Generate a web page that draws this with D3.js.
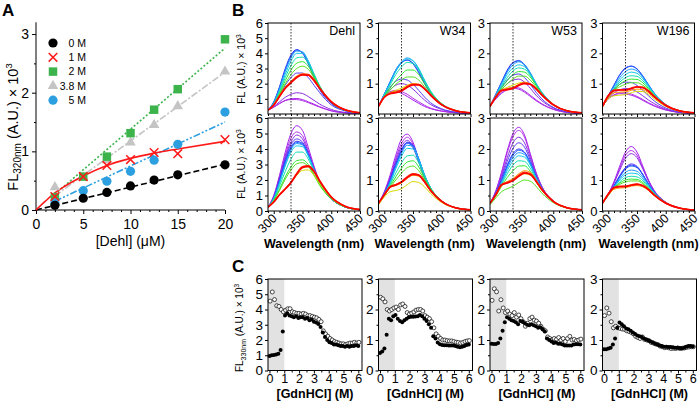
<!DOCTYPE html>
<html><head><meta charset="utf-8">
<script src="https://cdn.jsdelivr.net/npm/d3@7"></script>
<style>body{margin:0;background:#fff}svg{display:block}text{font-family:'Liberation Sans',Arial,Helvetica,sans-serif}</style>
</head><body><svg id="c" width="700" height="403"></svg>
<script>
// ---------------- DATA ----------------
// Panel A
const dehlConc = [2,5,7.5,10,12.5,15,20];
const a0M  = [0.08,0.2,0.3,0.41,0.51,0.6,0.77];
const a1M  = [0.23,0.57,0.76,0.86,0.98,0.96,1.2];
const a2M  = [0.22,0.57,0.91,1.31,1.71,2.06,2.91];
const a38M = [0.39,0.55,0.85,1.15,1.45,1.77,2.36];
const a5M  = [0.12,0.33,0.49,0.66,0.85,1.12,1.67];
const fit0x = [0,20], fit0y = [0,0.78];
const fit1x = [0,1,2,3,5,7.5,10,12.5,15,20], fit1y = [0,0.15,0.29,0.4,0.58,0.76,0.88,0.97,1.04,1.17];
const fit2x = [2,20], fit2y = [0.27,2.76];
const fit38x = [2,20], fit38y = [0.24,2.35];
const fit5x = [2,20], fit5y = [0.15,1.5];
const legendLabels = ['0 M','1 M','2 M','3.8 M','5 M'];
const aXTicks = [0,5,10,15,20], aYTicks = [0,1,2,3];

// Panel B: spectra sampled at these wavelengths (nm)
const wl = [290,300,310,320,330,340,350,360,370,380,400,425,450];
const specColors = ['#a51ef0','#b22ee6','#8a2be2','#5a3cf5','#2b2bff','#1f5fff','#1e9bff','#12c8e8','#10e0b0','#2ee82e','#55e020','#d8d800','#ff9a00','#ff3010','#ff0000'];
const specDehlTop = [
 [0.25,0.45,0.7,0.9,1.0,1.02,0.95,0.8,0.65,0.48,0.22,0.08,0.03],
 [0.25,0.45,0.68,0.88,0.95,0.95,0.88,0.75,0.6,0.45,0.2,0.07,0.03],
 [0.25,0.5,0.8,1.1,1.3,1.4,1.35,1.15,0.9,0.65,0.3,0.1,0.04],
 [0.25,0.6,1.2,1.9,2.4,2.7,2.7,2.4,1.9,1.4,0.6,0.2,0.06],
 [0.25,0.8,1.8,3.0,3.9,4.25,4.0,3.3,2.4,1.6,0.7,0.22,0.07],
 [0.25,0.8,1.75,2.9,3.8,4.2,4.05,3.4,2.5,1.7,0.72,0.22,0.07],
 [0.25,0.75,1.65,2.8,3.7,4.15,4.1,3.5,2.6,1.8,0.75,0.24,0.08],
 [0.25,0.7,1.55,2.6,3.5,4.0,4.0,3.5,2.65,1.85,0.78,0.25,0.08],
 [0.25,0.68,1.45,2.4,3.2,3.7,3.75,3.35,2.6,1.8,0.78,0.25,0.08],
 [0.25,0.65,1.35,2.2,2.9,3.35,3.45,3.15,2.5,1.8,0.78,0.25,0.08],
 [0.25,0.62,1.3,2.0,2.6,3.0,3.15,2.95,2.4,1.75,0.78,0.25,0.08],
 [0.25,0.6,1.2,1.75,2.15,2.45,2.6,2.55,2.2,1.68,0.8,0.26,0.08],
 [0.25,0.6,1.2,1.75,2.15,2.5,2.65,2.6,2.25,1.7,0.82,0.26,0.08],
 [0.25,0.6,1.18,1.72,2.1,2.45,2.62,2.6,2.25,1.7,0.82,0.26,0.08],
 [0.25,0.6,1.15,1.7,2.05,2.4,2.58,2.55,2.2,1.68,0.8,0.26,0.08]];
const specW34Top = [
 [0.25,0.55,0.72,0.75,0.68,0.58,0.46,0.35,0.25,0.18,0.09,0.04,0.02],
 [0.25,0.55,0.73,0.78,0.74,0.65,0.52,0.4,0.29,0.2,0.1,0.04,0.02],
 [0.25,0.58,0.8,0.95,1.0,0.95,0.82,0.64,0.46,0.32,0.15,0.05,0.02],
 [0.25,0.6,0.88,1.08,1.15,1.12,0.98,0.78,0.56,0.38,0.17,0.06,0.02],
 [0.25,0.65,1.05,1.45,1.7,1.78,1.65,1.36,1.0,0.68,0.3,0.1,0.04],
 [0.25,0.65,1.05,1.42,1.68,1.78,1.68,1.4,1.05,0.72,0.32,0.1,0.04],
 [0.25,0.65,1.05,1.45,1.72,1.85,1.75,1.48,1.1,0.75,0.33,0.11,0.04],
 [0.25,0.63,1.0,1.4,1.68,1.82,1.76,1.5,1.12,0.78,0.34,0.11,0.04],
 [0.25,0.6,0.95,1.3,1.55,1.7,1.66,1.45,1.1,0.76,0.34,0.11,0.04],
 [0.25,0.58,0.85,1.1,1.3,1.45,1.45,1.3,1.0,0.72,0.33,0.11,0.04],
 [0.25,0.56,0.78,0.98,1.12,1.22,1.22,1.12,0.9,0.66,0.32,0.11,0.04],
 [0.25,0.55,0.7,0.78,0.85,0.95,1.0,0.96,0.82,0.62,0.3,0.1,0.04],
 [0.25,0.55,0.69,0.74,0.8,0.93,1.0,0.98,0.84,0.64,0.31,0.11,0.04],
 [0.25,0.55,0.68,0.72,0.78,0.9,0.98,0.97,0.84,0.64,0.31,0.11,0.04],
 [0.25,0.55,0.67,0.7,0.76,0.88,0.96,0.96,0.83,0.63,0.3,0.1,0.04]];
const specW53Top = [
 [0.25,0.5,0.68,0.8,0.85,0.82,0.72,0.58,0.44,0.32,0.15,0.05,0.02],
 [0.25,0.5,0.7,0.83,0.88,0.86,0.76,0.62,0.47,0.34,0.16,0.05,0.02],
 [0.25,0.55,0.8,1.0,1.12,1.15,1.05,0.85,0.62,0.44,0.2,0.06,0.02],
 [0.25,0.58,0.88,1.12,1.28,1.32,1.2,0.98,0.72,0.5,0.22,0.07,0.03],
 [0.25,0.65,1.05,1.45,1.7,1.76,1.62,1.32,0.98,0.68,0.3,0.1,0.04],
 [0.25,0.64,1.03,1.42,1.68,1.75,1.63,1.35,1.0,0.7,0.31,0.1,0.04],
 [0.25,0.62,1.0,1.38,1.62,1.72,1.62,1.36,1.02,0.72,0.32,0.1,0.04],
 [0.25,0.6,0.95,1.3,1.52,1.62,1.56,1.32,1.0,0.72,0.32,0.1,0.04],
 [0.25,0.58,0.9,1.2,1.42,1.52,1.48,1.28,0.98,0.7,0.32,0.1,0.04],
 [0.25,0.56,0.85,1.1,1.3,1.4,1.38,1.22,0.95,0.68,0.32,0.1,0.04],
 [0.25,0.55,0.8,1.0,1.15,1.25,1.25,1.12,0.9,0.66,0.31,0.1,0.04],
 [0.25,0.55,0.78,0.88,0.95,1.02,1.05,0.98,0.82,0.62,0.3,0.1,0.04],
 [0.25,0.55,0.78,0.84,0.88,0.97,1.03,0.98,0.83,0.63,0.3,0.1,0.04],
 [0.25,0.56,0.78,0.82,0.86,0.96,1.02,0.99,0.84,0.64,0.31,0.1,0.04],
 [0.25,0.55,0.77,0.8,0.84,0.94,1.0,0.98,0.83,0.63,0.3,0.1,0.04]];
const specW196Top = [
 [0.25,0.5,0.62,0.67,0.66,0.62,0.55,0.45,0.35,0.26,0.13,0.05,0.02],
 [0.25,0.5,0.63,0.7,0.7,0.66,0.58,0.48,0.37,0.28,0.14,0.05,0.02],
 [0.25,0.52,0.7,0.8,0.84,0.82,0.73,0.6,0.46,0.34,0.16,0.05,0.02],
 [0.25,0.55,0.8,0.98,1.05,1.04,0.94,0.78,0.6,0.43,0.2,0.07,0.03],
 [0.25,0.6,0.95,1.3,1.52,1.58,1.48,1.24,0.95,0.67,0.3,0.1,0.04],
 [0.25,0.6,0.95,1.28,1.5,1.57,1.49,1.26,0.97,0.69,0.31,0.1,0.04],
 [0.25,0.58,0.9,1.2,1.4,1.48,1.42,1.22,0.95,0.68,0.31,0.1,0.04],
 [0.25,0.56,0.85,1.12,1.3,1.38,1.34,1.17,0.92,0.67,0.31,0.1,0.04],
 [0.25,0.55,0.82,1.05,1.2,1.26,1.24,1.1,0.88,0.65,0.3,0.1,0.04],
 [0.25,0.55,0.8,0.98,1.1,1.15,1.14,1.03,0.84,0.62,0.3,0.1,0.04],
 [0.25,0.56,0.78,0.9,0.98,1.03,1.03,0.95,0.8,0.6,0.29,0.1,0.04],
 [0.25,0.5,0.6,0.62,0.64,0.7,0.75,0.74,0.65,0.5,0.25,0.09,0.03],
 [0.25,0.55,0.7,0.72,0.73,0.78,0.82,0.8,0.7,0.54,0.27,0.09,0.03],
 [0.25,0.6,0.78,0.8,0.8,0.85,0.9,0.88,0.76,0.58,0.29,0.1,0.04],
 [0.25,0.6,0.77,0.79,0.79,0.84,0.89,0.87,0.75,0.57,0.28,0.1,0.04]];
const specDehlBot = [
 [0.25,1.0,2.3,3.8,5.0,5.5,5.2,4.1,2.9,1.9,0.8,0.25,0.08],
 [0.25,0.95,2.2,3.6,4.7,5.1,4.85,3.9,2.8,1.85,0.8,0.25,0.08],
 [0.25,0.9,2.1,3.45,4.45,4.9,4.65,3.8,2.75,1.8,0.8,0.25,0.08],
 [0.25,0.88,2.05,3.35,4.3,4.65,4.45,3.7,2.7,1.8,0.8,0.25,0.08],
 [0.25,0.85,1.95,3.2,4.15,4.5,4.35,3.65,2.7,1.8,0.8,0.25,0.08],
 [0.25,0.84,1.9,3.1,4.05,4.42,4.3,3.62,2.68,1.8,0.8,0.25,0.08],
 [0.25,0.82,1.85,3.0,3.95,4.35,4.25,3.6,2.68,1.8,0.8,0.25,0.08],
 [0.25,0.8,1.78,2.9,3.8,4.2,4.15,3.55,2.65,1.8,0.8,0.25,0.08],
 [0.25,0.75,1.6,2.55,3.35,3.8,3.8,3.35,2.55,1.75,0.8,0.25,0.08],
 [0.25,0.7,1.4,2.2,2.85,3.25,3.3,3.0,2.35,1.68,0.8,0.25,0.08],
 [0.25,0.68,1.32,2.05,2.65,3.05,3.12,2.88,2.3,1.65,0.8,0.25,0.08],
 [0.25,0.6,1.05,1.45,1.85,2.3,2.62,2.65,2.3,1.75,0.85,0.28,0.09],
 [0.25,0.58,1.05,1.45,1.88,2.4,2.78,2.85,2.5,1.9,0.88,0.28,0.09],
 [0.25,0.58,1.05,1.42,1.85,2.42,2.85,2.92,2.58,1.95,0.9,0.29,0.09],
 [0.25,0.58,1.05,1.42,1.82,2.38,2.8,2.88,2.55,1.93,0.9,0.29,0.09]];
const specW34Bot = [
 [0.25,0.62,1.15,1.8,2.32,2.48,2.22,1.65,1.1,0.7,0.3,0.1,0.04],
 [0.25,0.6,1.08,1.7,2.18,2.38,2.15,1.62,1.08,0.7,0.3,0.1,0.04],
 [0.25,0.58,1.05,1.62,2.08,2.28,2.08,1.6,1.08,0.7,0.3,0.1,0.04],
 [0.25,0.57,1.0,1.55,2.0,2.2,2.04,1.58,1.07,0.7,0.3,0.1,0.04],
 [0.25,0.56,0.98,1.5,1.95,2.22,2.12,1.68,1.15,0.75,0.32,0.1,0.04],
 [0.25,0.55,0.95,1.46,1.9,2.18,2.1,1.68,1.16,0.76,0.32,0.1,0.04],
 [0.25,0.55,0.93,1.42,1.85,2.12,2.08,1.68,1.17,0.77,0.32,0.1,0.04],
 [0.25,0.54,0.9,1.36,1.76,2.02,2.0,1.65,1.16,0.77,0.32,0.1,0.04],
 [0.25,0.52,0.85,1.22,1.55,1.78,1.8,1.55,1.12,0.76,0.32,0.1,0.04],
 [0.25,0.5,0.8,1.1,1.38,1.58,1.62,1.42,1.06,0.74,0.32,0.1,0.04],
 [0.25,0.5,0.76,1.0,1.22,1.4,1.45,1.3,1.0,0.7,0.31,0.1,0.04],
 [0.2,0.45,0.62,0.66,0.72,0.85,0.95,0.92,0.78,0.58,0.27,0.09,0.03],
 [0.25,0.5,0.75,0.82,0.9,1.05,1.15,1.12,0.92,0.66,0.3,0.1,0.04],
 [0.25,0.52,0.78,0.85,0.95,1.1,1.2,1.16,0.95,0.68,0.31,0.1,0.04],
 [0.25,0.52,0.77,0.84,0.93,1.08,1.18,1.15,0.94,0.68,0.31,0.1,0.04]];
const specW53Bot = [
 [0.25,0.65,1.25,1.95,2.5,2.7,2.45,1.85,1.25,0.8,0.32,0.1,0.04],
 [0.25,0.63,1.2,1.88,2.4,2.6,2.38,1.82,1.23,0.8,0.32,0.1,0.04],
 [0.25,0.6,1.12,1.72,2.2,2.38,2.2,1.72,1.18,0.78,0.32,0.1,0.04],
 [0.25,0.58,1.05,1.6,2.02,2.2,2.06,1.64,1.14,0.76,0.32,0.1,0.04],
 [0.25,0.56,0.98,1.48,1.85,2.0,1.9,1.55,1.1,0.74,0.32,0.1,0.04],
 [0.25,0.55,0.96,1.44,1.8,1.96,1.88,1.55,1.1,0.74,0.32,0.1,0.04],
 [0.25,0.54,0.93,1.38,1.72,1.88,1.82,1.52,1.09,0.74,0.32,0.1,0.04],
 [0.25,0.53,0.9,1.3,1.62,1.78,1.74,1.48,1.07,0.73,0.32,0.1,0.04],
 [0.25,0.5,0.85,1.2,1.48,1.62,1.6,1.38,1.02,0.71,0.31,0.1,0.04],
 [0.25,0.48,0.8,1.08,1.3,1.45,1.46,1.28,0.97,0.68,0.3,0.1,0.04],
 [0.2,0.42,0.62,0.72,0.8,0.92,1.0,0.96,0.8,0.58,0.27,0.09,0.03],
 [0.25,0.5,0.8,0.92,1.0,1.12,1.2,1.15,0.95,0.68,0.3,0.1,0.04],
 [0.25,0.52,0.85,0.95,1.05,1.2,1.3,1.25,1.0,0.7,0.31,0.1,0.04],
 [0.25,0.52,0.85,0.92,1.0,1.15,1.25,1.2,0.98,0.7,0.31,0.1,0.04],
 [0.25,0.52,0.84,0.9,0.98,1.12,1.22,1.18,0.96,0.69,0.31,0.1,0.04]];
const specW196Bot = [
 [0.25,0.55,0.95,1.45,1.9,2.08,1.9,1.45,1.0,0.66,0.28,0.09,0.03],
 [0.25,0.55,0.92,1.38,1.8,1.95,1.8,1.4,0.98,0.65,0.28,0.09,0.03],
 [0.25,0.54,0.9,1.32,1.7,1.85,1.72,1.36,0.96,0.64,0.28,0.09,0.03],
 [0.25,0.52,0.82,1.15,1.4,1.52,1.44,1.18,0.86,0.6,0.27,0.09,0.03],
 [0.25,0.52,0.82,1.12,1.38,1.48,1.42,1.18,0.87,0.6,0.27,0.09,0.03],
 [0.25,0.52,0.8,1.1,1.35,1.45,1.4,1.17,0.87,0.6,0.27,0.09,0.03],
 [0.25,0.5,0.78,1.04,1.25,1.32,1.28,1.1,0.84,0.6,0.27,0.09,0.03],
 [0.25,0.5,0.76,1.0,1.17,1.22,1.2,1.04,0.8,0.58,0.27,0.09,0.03],
 [0.25,0.5,0.74,0.94,1.08,1.12,1.1,0.98,0.77,0.56,0.26,0.09,0.03],
 [0.25,0.52,0.75,0.9,1.0,1.03,1.02,0.92,0.74,0.55,0.26,0.09,0.03],
 [0.25,0.52,0.74,0.86,0.94,0.97,0.97,0.88,0.72,0.54,0.26,0.09,0.03],
 [0.25,0.52,0.72,0.78,0.8,0.84,0.86,0.81,0.68,0.51,0.25,0.09,0.03],
 [0.25,0.5,0.7,0.74,0.75,0.8,0.82,0.78,0.66,0.5,0.25,0.09,0.03],
 [0.25,0.55,0.76,0.8,0.8,0.84,0.87,0.82,0.7,0.52,0.26,0.09,0.03],
 [0.25,0.54,0.75,0.78,0.79,0.83,0.86,0.81,0.69,0.51,0.25,0.09,0.03]];
const bNames = ['Dehl','W34','W53','W196'];
const bMax = [6,3,3,3];
const bXTicks = [300,350,400,450];

// Panel C: FL at 330 nm vs [GdnHCl]
const gdn = [0,0.15,0.3,0.45,0.6,0.75,0.9,1.05,1.2,1.35,1.5,1.65,1.8,1.95,2.1,2.25,2.4,2.55,2.7,2.85,3,3.15,3.3,3.45,3.6,3.75,3.9,4.05,4.2,4.35,4.5,4.65,4.8,4.95,5.1,5.25,5.4,5.55,5.7,5.85,6];
const cDehlFilled = [0.95,1.0,1.02,1.05,1.1,1.35,2.55,3.6,3.75,3.6,3.55,3.5,3.55,3.45,3.5,3.5,3.4,3.45,3.3,3.35,3.2,3.15,3.05,2.85,2.5,2.2,2.0,1.85,1.8,1.7,1.7,1.65,1.6,1.6,1.55,1.6,1.55,1.6,1.6,1.65,1.6];
const cDehlOpen = [4.55,5.15,4.65,4.25,4.2,4.0,3.85,3.95,4.05,4.05,3.85,3.8,3.75,3.75,3.7,3.75,3.7,3.6,3.6,3.55,3.5,3.45,3.35,3.2,2.6,2.4,2.25,2.1,2.0,1.9,1.85,1.8,1.75,1.75,1.7,1.75,1.8,1.8,1.85,1.8,1.85];
const cW34Filled = [0.57,0.62,0.72,1.17,1.7,1.65,1.78,1.82,1.7,1.62,1.58,1.65,1.7,1.75,1.76,1.76,1.77,1.78,1.82,1.78,1.7,1.62,1.52,1.4,1.12,1.05,0.92,0.86,0.84,0.83,0.83,0.82,0.82,0.82,0.8,0.78,0.76,0.78,0.8,0.84,0.85];
const cW34Open = [2.4,2.35,2.25,2.0,1.95,2.0,2.05,2.08,2.0,2.15,2.18,2.1,1.9,1.85,1.88,1.92,1.98,2.0,2.0,1.95,1.8,1.75,1.7,1.6,1.4,1.2,1.12,1.05,1.0,1.0,0.98,0.97,0.97,0.95,0.93,0.92,0.9,0.92,0.95,0.97,0.98];
const cW53Filled = [0.88,0.87,0.87,0.9,1.05,1.3,1.58,1.75,1.7,1.65,1.62,1.58,1.52,1.62,1.6,1.55,1.5,1.48,1.52,1.48,1.45,1.4,1.42,1.35,1.28,1.05,1.0,0.95,0.9,0.92,0.88,0.88,0.85,0.82,0.82,0.82,0.82,0.85,0.86,0.86,0.85];
const cW53Open = [2.3,2.68,2.58,1.95,2.32,2.05,1.9,1.95,1.85,1.8,1.9,1.75,1.82,1.7,1.6,1.45,1.55,1.7,1.75,1.65,1.62,1.55,1.45,1.35,1.3,1.1,1.05,1.0,1.05,1.02,1.08,1.0,1.05,0.95,1.05,1.12,1.0,1.02,0.98,1.0,1.03];
const cW196Filled = [0.7,0.7,0.72,0.75,0.85,1.05,1.4,1.57,1.52,1.45,1.38,1.35,1.3,1.25,1.2,1.15,1.12,1.1,1.05,1.02,0.98,0.95,0.92,0.88,0.85,0.82,0.8,0.78,0.78,0.77,0.77,0.76,0.75,0.75,0.74,0.73,0.75,0.78,0.8,0.8,0.79];
const cW196Open = [1.8,2.05,1.88,1.6,1.4,1.45,1.4,1.38,1.36,1.35,1.3,1.28,1.25,1.2,1.12,1.08,1.05,1.1,1.02,1.0,0.98,0.92,0.9,0.87,0.85,0.8,0.78,0.75,0.76,0.74,0.72,0.73,0.72,0.74,0.72,0.73,0.74,0.76,0.77,0.78,0.78];
const cXTicks = [0,1,2,3,4,5,6];

// ---------------- DRAW ----------------
const svg = d3.select('#c');
const FONT = "'Liberation Sans', Arial, Helvetica, sans-serif";

function styleAxis(sel, fs){
  sel.select('.domain').remove();
  sel.selectAll('line').attr('stroke','#000').attr('stroke-width',1);
  sel.selectAll('text').style('font-family',FONT).style('font-size',fs+'px').attr('fill','#000');
}
function frame(g,x0,y0,w,h){
  g.append('rect').attr('x',x0).attr('y',y0).attr('width',w).attr('height',h)
   .attr('fill','none').attr('stroke','#000').attr('stroke-width',1);
}
function yLabel(g, x, y, fs, sub, subFs){
  const t = g.append('text').attr('transform',`translate(${x},${y}) rotate(-90)`)
    .attr('text-anchor','middle').style('font-size',fs+'px');
  t.append('tspan').text('FL');
  let rest = ' (A.U.) \u00d7 10';
  if(sub){ t.append('tspan').attr('dy',fs*0.25).style('font-size',subFs+'px').text(sub);
           t.append('tspan').attr('dy',-fs*0.25).text(rest); }
  else t.append('tspan').text(rest);
  t.append('tspan').attr('dy',-fs*0.4).style('font-size',(fs*0.65)+'px').text('3');
}

// ===== Panel A =====
const gA = svg.append('g');
const ax = d3.scaleLinear().domain([0,20]).range([36,225]);
const ay = d3.scaleLinear().domain([0,3.2]).range([210,22.3]);
gA.append('line').attr('x1',ax(0)).attr('x2',ax(0)).attr('y1',ay(3.2)).attr('y2',ay(0)).attr('stroke','#000');
gA.append('line').attr('x1',ax(0)).attr('x2',ax(20)).attr('y1',ay(0)).attr('y2',ay(0)).attr('stroke','#000');
gA.append('g').attr('transform',`translate(${ax(0)},0)`)
  .call(d3.axisLeft(ay).tickValues(aYTicks).tickSize(4).tickPadding(3).tickFormat(d3.format('d'))).call(styleAxis,14);
gA.append('g').attr('transform',`translate(${ax(0)},0)`)
  .call(d3.axisLeft(ay).tickValues([0.5,1.5,2.5]).tickSize(2).tickFormat('')).call(styleAxis,14);
gA.append('g').attr('transform',`translate(0,${ay(0)})`)
  .call(d3.axisBottom(ax).tickValues(aXTicks).tickSize(4).tickPadding(5).tickFormat(d3.format('d'))).call(styleAxis,14);
gA.append('g').attr('transform',`translate(0,${ay(0)})`)
  .call(d3.axisBottom(ax).tickValues(d3.range(1,20).filter(v=>v%5)).tickSize(2).tickFormat('')).call(styleAxis,14);
gA.append('text').attr('x',(ax(0)+ax(20))/2).attr('y',246).attr('text-anchor','middle').style('font-size','14px').text('[Dehl] (\u03bcM)');
yLabel(gA, 17.5, 127, 14.5, '320nm', 10);

const colA = {k:'#000000', r:'#ff1a1a', g:'#3cb44b', gr:'#c4c4c4', b:'#2b9fe0'};
const lineA = d3.line().x(d=>ax(d[0])).y(d=>ay(d[1]));
function fitPath(xs, ys, color, dash, curve){
  const ln = curve ? d3.line().curve(d3.curveMonotoneX).x(d=>ax(d[0])).y(d=>ay(d[1])) : lineA;
  gA.append('path').attr('d', ln(xs.map((x,i)=>[x,ys[i]]))).attr('fill','none')
    .attr('stroke',color).attr('stroke-width',1.6).attr('stroke-dasharray',dash);
}
fitPath(fit0x,fit0y,colA.k,'6,3');
fitPath(fit2x,fit2y,colA.g,'2,2');
fitPath(fit38x,fit38y,colA.gr,'7,2,2,2');
fitPath(fit5x,fit5y,colA.b,'7,2,2,2,2,2');
fitPath(fit1x,fit1y,colA.r,null,true);

function drawMarker(g, type, cx, cy){
  if(type==='circK'||type==='circB'){
    g.append('circle').attr('cx',cx).attr('cy',cy).attr('r',4.6).attr('fill', type==='circK'?colA.k:colA.b);
  } else if(type==='sq'){
    g.append('path').attr('transform',`translate(${cx},${cy})`).attr('d',d3.symbol(d3.symbolSquare,72)()).attr('fill',colA.g);
  } else if(type==='tri'){
    g.append('path').attr('transform',`translate(${cx},${cy})`).attr('d',d3.symbol(d3.symbolTriangle,48)()).attr('fill',colA.gr);
  } else if(type==='x'){
    const s=4.3;
    g.append('path').attr('d',`M${cx-s},${cy-s}L${cx+s},${cy+s}M${cx-s},${cy+s}L${cx+s},${cy-s}`)
      .attr('stroke',colA.r).attr('stroke-width',1.5).attr('fill','none');
  }
}
const seriesA = [
  {vals:a38M, type:'tri'}, {vals:a2M, type:'sq'}, {vals:a5M, type:'circB'},
  {vals:a0M, type:'circK'}, {vals:a1M, type:'x'}];
seriesA.forEach(s=> s.vals.forEach((v,i)=> drawMarker(gA, s.type, ax(dehlConc[i]), ay(v))));
// legend
const legTypes = ['circK','x','sq','tri','circB'];
legendLabels.forEach((lab,i)=>{
  const yy = 43 + i*14.3;
  drawMarker(gA, legTypes[i], 53, yy);
  gA.append('text').attr('x',86).attr('y',yy+3.6).attr('text-anchor','end').style('font-size','10.5px').text(lab);
});

// ===== Panel B =====
const bLefts = [268,378.5,490,602.5], bW = 92;
const rowsB = [{top:23,bot:114,spec:[specDehlTop,specW34Top,specW53Top,specW196Top]},
               {top:118,bot:211,spec:[specDehlBot,specW34Bot,specW53Bot,specW196Bot]}];
const defs = svg.append('defs');
rowsB.forEach((row,r)=>{
  bLefts.forEach((L,i)=>{
    const g = svg.append('g');
    const x = d3.scaleLinear().domain([290,450]).range([L,L+bW]);
    const y = d3.scaleLinear().domain([0,bMax[i]]).range([row.bot,row.top]);
    const cid = `clipB${r}${i}`;
    defs.append('clipPath').attr('id',cid).append('rect').attr('x',L).attr('y',row.top).attr('width',bW).attr('height',row.bot-row.top);
    const line = d3.line().curve(d3.curveMonotoneX).x(d=>x(d[0])).y(d=>y(d[1]));
    const cg = g.append('g').attr('clip-path',`url(#${cid})`);
    row.spec[i].forEach((vals,k)=>{
      cg.append('path').attr('d',line(wl.map((w,j)=>[w,vals[j]]))).attr('fill','none')
        .attr('stroke',specColors[k]).attr('stroke-width', k>=13?1.6:1.0);
    });
    g.append('line').attr('x1',x(330)).attr('x2',x(330)).attr('y1',row.top).attr('y2',row.bot)
      .attr('stroke','#000').attr('stroke-width',0.8).attr('stroke-dasharray','1.5,1.5');
    frame(g,L,row.top,bW,row.bot-row.top);
    const yt = d3.range(r===0?1:0, bMax[i]+1);
    g.append('g').attr('transform',`translate(${L},0)`)
      .call(d3.axisLeft(y).tickValues(yt).tickSize(3).tickPadding(2).tickFormat(d3.format('d'))).call(styleAxis,13);
    if(bMax[i]===3) g.append('g').attr('transform',`translate(${L},0)`)
      .call(d3.axisLeft(y).tickValues([0.5,1.5,2.5]).tickSize(2).tickFormat('')).call(styleAxis,13);
    g.append('g').attr('transform',`translate(0,${row.bot})`)
      .call(d3.axisBottom(x).tickValues(bXTicks).tickSize(3).tickFormat('')).call(styleAxis,12);
    g.append('g').attr('transform',`translate(0,${row.bot})`)
      .call(d3.axisBottom(x).tickValues(d3.range(290,451,10).filter(v=>v%50)).tickSize(2).tickFormat('')).call(styleAxis,12);
    if(r===0){
      g.append('text').attr('x',L+bW-5).attr('y',35).attr('text-anchor','end').style('font-size','12.5px').text(bNames[i]);
    } else {
      bXTicks.forEach(v=>{
        g.append('text').attr('transform',`translate(${x(v)+4},219) rotate(-45)`).attr('text-anchor','end')
          .style('font-size','12.5px').text(v);
      });
      g.append('text').attr('x',L+bW/2).attr('y',248).attr('text-anchor','middle')
        .style('font-size','12.5px').style('font-weight','bold').text('Wavelength (nm)');
    }
  });
});
yLabel(svg, 245, 69, 10.5, null);
yLabel(svg, 245, 164, 10.5, null);

// ===== Panel C =====
const cTop = 279, cBot = 370.5, cW = 94;
const cSets = [[cDehlFilled,cDehlOpen],[cW34Filled,cW34Open],[cW53Filled,cW53Open],[cW196Filled,cW196Open]];
bLefts.forEach((L,i)=>{
  const g = svg.append('g');
  const x = d3.scaleLinear().domain([-0.1,6.25]).range([L,L+cW]);
  const y = d3.scaleLinear().domain([0,bMax[i]]).range([cBot,cTop]);
  g.append('rect').attr('x',x(-0.1)).attr('y',cTop).attr('width',x(1)-x(-0.1)).attr('height',cBot-cTop).attr('fill','#e2e2e2');
  const [filled, open] = cSets[i];
  open.forEach((v,j)=> g.append('circle').attr('cx',x(gdn[j])+0.6).attr('cy',y(v)).attr('r',2.0)
      .attr('fill','#fff').attr('stroke','#000').attr('stroke-width',0.7));
  filled.forEach((v,j)=> g.append('circle').attr('cx',x(gdn[j])).attr('cy',y(v)).attr('r',2.0).attr('fill','#000'));
  frame(g,L,cTop,cW,cBot-cTop);
  g.append('g').attr('transform',`translate(${L},0)`)
    .call(d3.axisLeft(y).tickValues(d3.range(0,bMax[i]+1)).tickSize(3).tickPadding(2).tickFormat(d3.format('d'))).call(styleAxis,13.5);
  if(bMax[i]===3) g.append('g').attr('transform',`translate(${L},0)`)
    .call(d3.axisLeft(y).tickValues([0.5,1.5,2.5]).tickSize(2).tickFormat('')).call(styleAxis,13);
  g.append('g').attr('transform',`translate(0,${cBot})`)
    .call(d3.axisBottom(x).tickValues(cXTicks).tickSize(3).tickPadding(0.5).tickFormat(d3.format('d'))).call(styleAxis,12.5);
  g.append('g').attr('transform',`translate(0,${cBot})`)
    .call(d3.axisBottom(x).tickValues([0.5,1.5,2.5,3.5,4.5,5.5]).tickSize(2).tickFormat('')).call(styleAxis,12);
  g.append('text').attr('x',L+cW/2).attr('y',397.5).attr('text-anchor','middle')
    .style('font-size','12.5px').style('font-weight','bold').text('[GdnHCl] (M)');
});
yLabel(svg, 243, 328, 10, '330nm', 7);

// panel letters
[['A',2,16],['B',232,16],['C',232,272]].forEach(([t,xx,yy])=>{
  svg.append('text').attr('x',xx).attr('y',yy).style('font-size','17px').style('font-weight','bold').text(t);
});
</script></body></html>
